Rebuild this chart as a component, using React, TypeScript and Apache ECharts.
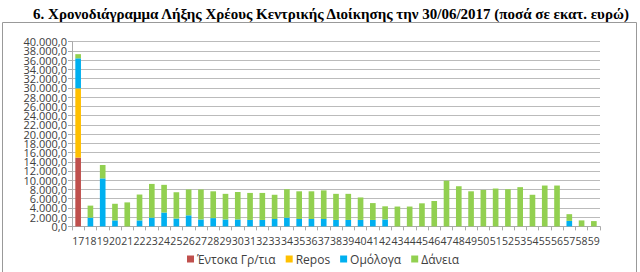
import React, { useEffect, useRef } from "react";
import * as echarts from "echarts";

const years = ["17","18","19","20","21","22","23","24","25","26","27","28","29","30","31","32","33","34","35","36","37","38","39","40","41","42","43","44","45","46","47","48","49","50","51","52","53","54","55","56","57","58","59"];

const entoka = [14900,0,0,0,0,0,0,0,0,0,0,0,0,0,0,0,0,0,0,0,0,0,0,0,0,0,0,0,0,0,0,0,0,0,0,0,0,0,0,0,0,0,0];
const repos = [15000,0,0,0,0,0,0,0,0,0,0,0,0,0,0,0,0,0,0,0,0,0,0,0,0,0,0,0,0,0,0,0,0,0,0,0,0,0,0,0,0,0,0];
const omologa = [6500,1900,10400,1300,0,1300,1900,3000,1700,2400,1500,1800,1500,1500,1400,1400,1600,1900,1600,1600,1600,1400,1400,1400,1400,1500,0,0,0,0,0,0,0,0,0,0,0,0,0,0,1200,0,0];
const dania = [900,2600,2900,3600,5200,5600,7300,6000,5700,5600,6500,5800,5550,5950,5850,5850,5250,6150,6000,6000,6200,5650,5650,4870,3650,2850,4300,4300,5000,5500,9900,8700,7600,7900,8200,8050,8500,6850,8850,8850,1450,1300,1150];

const seriesNames = ["Έντοκα Γρ/τια", "Repos", "Ομόλογα", "Δάνεια"];
const colors = ["#C0504D", "#FFC000", "#00B0F0", "#92D050"];

function fmt(v: number): string {
  const s = Math.round(v).toString().replace(/\B(?=(\d{3})+(?!\d))/g, ".");
  return s + ",0";
}

export default function App() {
  const ref = useRef<HTMLDivElement>(null);
  useEffect(() => {
    if (!ref.current) return;
    const chart = echarts.init(ref.current, null, { renderer: "svg" });
    const data = [entoka, repos, omologa, dania];
    const labelBase = {
      fontFamily: "Open Sans",
      fontSize: 11,
      color: "#404040",
      margin: 5,
      lineHeight: 9,
      hideOverlap: false,
      showMinLabel: true,
      showMaxLabel: true,
    };
    chart.setOption({
      animation: false,
      title: {
        text: "6. Χρονοδιάγραμμα Λήξης Χρέους Κεντρικής Διοίκησης την 30/06/2017 (ποσά σε εκατ. ευρώ)",
        left: 326,
        textAlign: "center",
        top: 1,
        textStyle: {
          fontFamily: "Liberation Serif",
          fontWeight: "bold",
          fontSize: 15,
          color: "#000",
        },
      },
      graphic: [
        {
          type: "rect",
          shape: { x: 2.5, y: 22.5, width: 634, height: 260 },
          style: { fill: "none", stroke: "#999", lineWidth: 1 },
          silent: true,
        },
      ],
      legend: {
        data: seriesNames,
        left: 182,
        top: 248,
        itemWidth: 7,
        itemHeight: 7,
        itemGap: 10,
        icon: "rect",
        textStyle: { fontFamily: "Open Sans", fontSize: 12, color: "#404040", padding: [0, 0, 0, -2] },
      },
      grid: { left: 72, right: 40, top: 41.7, bottom: 45.6, containLabel: false },
      xAxis: {
        type: "category",
        data: years,
        axisLine: { lineStyle: { color: "#aaa" } },
        axisTick: { show: true, length: 4, lineStyle: { color: "#aaa" } },
        axisLabel: {
          interval: 0,
          fontFamily: "Open Sans",
          fontSize: 10.5,
          color: "#404040",
          margin: 9,
        },
      },
      yAxis: [
        {
          type: "value",
          min: 0,
          max: 40000,
          interval: 2000,
          axisLine: { show: true, lineStyle: { color: "#aaa" } },
          axisTick: { show: true, length: 4, lineStyle: { color: "#aaa" } },
          splitLine: { lineStyle: { color: "#bbb" } },
          axisLabel: {
            ...labelBase,
            formatter: (v: number) => (v % 4000 === 0 ? fmt(v) : ""),
          },
        },
        {
          type: "value",
          position: "left",
          min: 0,
          max: 40000,
          interval: 2000,
          axisLine: { show: false },
          axisTick: { show: false },
          splitLine: { show: false },
          axisLabel: {
            ...labelBase,
            formatter: (v: number) => (v % 4000 === 2000 ? fmt(v) : ""),
          },
        },
      ],
      series: seriesNames.map((name, i) => ({
        name,
        type: "bar",
        stack: "total",
        yAxisIndex: 0,
        barWidth: "46%",
        itemStyle: { color: colors[i] },
        data: data[i],
      })),
    });
    return () => chart.dispose();
  }, []);
  return (
    <div
      ref={ref}
      style={{ position: "fixed", left: 0, top: 0, width: 640, height: 272, background: "#fff" }}
    />
  );
}
